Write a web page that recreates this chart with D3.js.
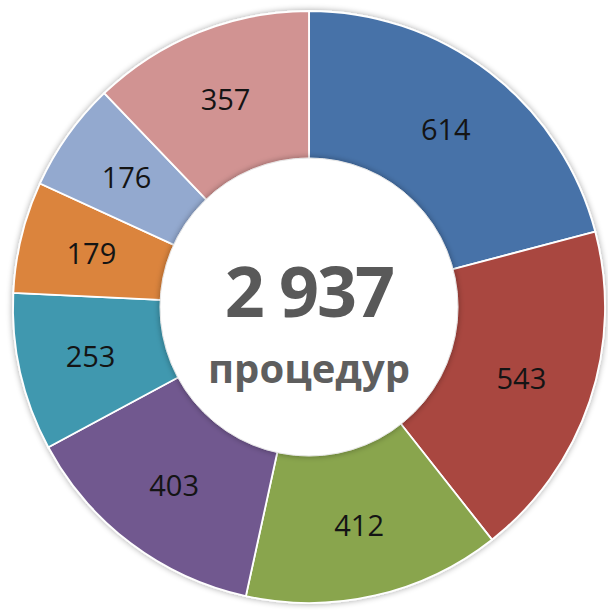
<!DOCTYPE html>
<html>
<head>
<meta charset="utf-8">
<script src="https://cdn.jsdelivr.net/npm/d3@7"></script>
<style>
  body { margin: 0; background: #fff; }
  svg { display: block; }
</style>
</head>
<body>
<div class="donutChart"></div>
<script>
// values clockwise from 12 o'clock
var values = [614, 543, 412, 403, 253, 179, 176, 357];
var colors = ["#4672a8", "#a9463f", "#89a54e", "#71588f", "#4198af", "#db843d", "#93a9cf", "#d19392"];
var totalLabel = "2 937";
var unitLabel = "процедур";

var width = 608, height = 610;
var cx = 309, cy = 307;
var outerR = 296, innerR = 149, labelR = 224;

var svg = d3.select(".donutChart")
            .append("svg")
            .attr("width", width)
            .attr("height", height);

var defs = svg.append("defs");
var sh = defs.append("filter").attr("id", "shadow")
    .attr("x", "-20%").attr("y", "-20%").attr("width", "140%").attr("height", "140%");
sh.append("feGaussianBlur").attr("in", "SourceAlpha").attr("stdDeviation", 3);
sh.append("feOffset").attr("dx", 0).attr("dy", 0).attr("result", "b");
sh.append("feComponentTransfer").append("feFuncA").attr("type", "linear").attr("slope", 0.35);
var m = sh.append("feMerge");
m.append("feMergeNode");
m.append("feMergeNode").attr("in", "SourceGraphic");

var pie = d3.pie().sort(null).value(function(d) { return d; });
var arc = d3.arc().innerRadius(innerR - 5).outerRadius(outerR);
var labelArc = d3.arc().innerRadius(labelR).outerRadius(labelR);

var g = svg.append("g").attr("transform", "translate(" + cx + "," + cy + ")");

var slices = g.append("g").attr("filter", "url(#shadow)");
slices.selectAll("path")
  .data(pie(values))
  .enter().append("path")
  .attr("d", arc)
  .attr("fill", function(d, i) { return colors[i]; })
  .attr("stroke", "#fff")
  .attr("stroke-width", 1.8);

// inner white disc with soft shadow
g.append("circle")
  .attr("r", innerR)
  .attr("fill", "#fff")
  .attr("stroke", "#e6e6e6")
  .attr("stroke-width", 1)
  .attr("filter", "url(#shadow)");

g.selectAll("text.lbl")
  .data(pie(values))
  .enter().append("text")
  .attr("class", "lbl")
  .attr("transform", function(d) { return "translate(" + labelArc.centroid(d) + ")"; })
  .attr("text-anchor", "middle")
  .attr("dy", "0.36em")
  .style("font-family", "'Open Sans', sans-serif")
  .style("font-size", "29px")
  .style("fill", "#141414")
  .text(function(d) { return d.data; });

g.append("text")
  .attr("text-anchor", "middle")
  .attr("y", 10)
  .style("font-family", "'Open Sans', sans-serif")
  .style("font-weight", "bold")
  .style("font-size", "70px")
  .style("letter-spacing", "-2px")
  .style("fill", "#595959")
  .text(totalLabel);

g.append("text")
  .attr("text-anchor", "middle")
  .attr("y", 76)
  .style("font-family", "'Open Sans', sans-serif")
  .style("font-weight", "bold")
  .style("font-size", "40px")
  .style("fill", "#5e5e5e")
  .text(unitLabel);
</script>
</body>
</html>
